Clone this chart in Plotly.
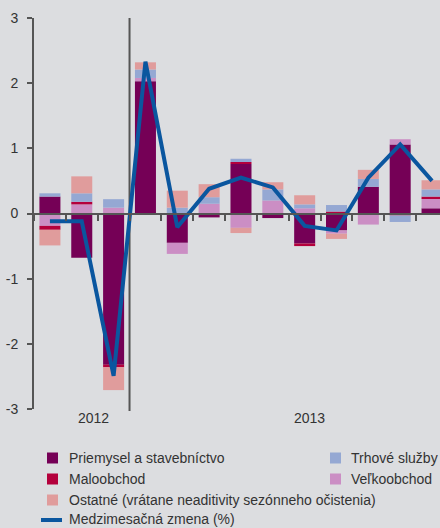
import plotly.graph_objects as go

categories = ["10/2012", "11/2012", "12/2012", "1/2013", "2/2013", "3/2013", "4/2013",
              "5/2013", "6/2013", "7/2013", "8/2013", "9/2013", "10/2013"]
priemysel = [0.26, -0.68, -2.32, 2.03, -0.45, -0.06, 0.76, -0.07, -0.46, -0.26, 0.41, 1.06, 0.08]
velkoobchod = [-0.19, 0.14, 0.09, 0.05, -0.17, 0.15, -0.22, 0.20, 0.08, -0.05, -0.17, 0.08, 0.15]
maloobchod = [-0.06, 0.04, -0.04, 0.0, 0.0, 0.0, 0.03, 0.0, -0.04, 0.03, 0.0, -0.03, 0.03]
trhove = [0.05, 0.13, 0.13, 0.13, 0.09, 0.10, 0.05, 0.17, 0.06, 0.10, 0.12, -0.10, 0.11]
ostatne = [-0.24, 0.26, -0.35, 0.11, 0.26, 0.20, -0.08, 0.11, 0.14, -0.08, 0.14, 0.0, 0.14]
zmena = [-0.12, -0.12, -2.49, 2.33, -0.21, 0.38, 0.55, 0.40, -0.19, -0.26, 0.55, 1.06, 0.50]
year_labels = ["2012", "2013"]
y_ticks = [3, 2, 1, 0, -1, -2, -3]

C_PRI = "#750056"
C_MAL = "#b4003c"
C_OST = "#e09c9c"
C_TRH = "#95a8d3"
C_VEL = "#cb8ec4"
C_LINE = "#0a569f"
BG = "#dcdde0"
AX = "#555555"
TXT = "#333333"
FONT = "Liberation Sans"

W, H = 440, 528
L, R, T, B = 34, 0, 18, 119
PW, PH = W - L - R, H - T - B


def xp(px):
    return (px - L) / PW


def yp(py):
    return (H - B - py) / PH


fig = go.Figure()
series = [("Priemysel a stavebníctvo", priemysel, C_PRI),
          ("Veľkoobchod", velkoobchod, C_VEL),
          ("Maloobchod", maloobchod, C_MAL),
          ("Trhové služby", trhove, C_TRH),
          ("Ostatné (vrátane neaditivity sezónneho očistenia)", ostatne, C_OST)]
for name, vals, col in series:
    fig.add_trace(go.Bar(x=categories, y=vals, name=name, marker_color=col,
                         marker_line_width=0, showlegend=False))
fig.add_trace(go.Scatter(x=categories, y=zmena, mode="lines", name="Medzimesačná zmena (%)",
                         line=dict(color=C_LINE, width=4), showlegend=False))

shapes = []
# separator between years
shapes.append(dict(type="line", xref="x", yref="paper", x0=2.5, x1=2.5, y0=-0.005, y1=1.0,
                   line=dict(color=AX, width=2), layer="below"))

annotations = []
annotations.append(dict(text=year_labels[0], xref="paper", yref="paper", x=xp(93), y=yp(418),
                        showarrow=False, font=dict(size=14, color=TXT, family=FONT),
                        xanchor="center", yanchor="middle"))
annotations.append(dict(text=year_labels[1], xref="paper", yref="paper", x=xp(309), y=yp(418),
                        showarrow=False, font=dict(size=14, color=TXT, family=FONT),
                        xanchor="center", yanchor="middle"))

legend_items = [
    ("Priemysel a stavebníctvo", C_PRI, 47, 67, 458),
    ("Trhové služby", C_TRH, 330, 349, 458),
    ("Maloobchod", C_MAL, 47, 67, 479),
    ("Veľkoobchod", C_VEL, 330, 349, 479),
    ("Ostatné (vrátane neaditivity sezónneho očistenia)", C_OST, 47, 67, 500),
]
for text, col, sx, tx, cy in legend_items:
    shapes.append(dict(type="rect", xref="paper", yref="paper",
                       x0=xp(sx), x1=xp(sx + 11), y0=yp(cy - 5.5), y1=yp(cy + 5.5),
                       fillcolor=col, line=dict(width=0)))
    annotations.append(dict(text=text, xref="paper", yref="paper", x=xp(tx), y=yp(cy),
                            showarrow=False, font=dict(size=14, color=TXT, family=FONT),
                            xanchor="left", yanchor="middle"))
shapes.append(dict(type="line", xref="paper", yref="paper", x0=xp(41), x1=xp(62),
                   y0=yp(520), y1=yp(520), line=dict(color=C_LINE, width=4)))
annotations.append(dict(text="Medzimesačná zmena (%)", xref="paper", yref="paper", x=xp(67), y=yp(519),
                        showarrow=False, font=dict(size=14, color=TXT, family=FONT),
                        xanchor="left", yanchor="middle"))

fig.update_layout(
    width=W, height=H,
    margin=dict(l=L, r=R, t=T, b=B, pad=0),
    barmode="relative", bargap=0.34,
    paper_bgcolor=BG, plot_bgcolor=BG,
    showlegend=False,
    shapes=shapes, annotations=annotations,
    font=dict(family=FONT, color=TXT, size=14),
    xaxis=dict(type="category", range=[-0.5, 12.25], anchor="free", position=0.5,
               showline=True, linecolor=AX, linewidth=2, showgrid=False, zeroline=False,
               tickmode="array", tickvals=[i - 0.5 for i in range(13)],
               ticktext=["" for _ in range(13)], ticks="outside", ticklen=6, tickwidth=1.5,
               tickcolor=AX, showticklabels=False, fixedrange=True),
    yaxis=dict(range=[-3, 3], showline=True, linecolor=AX, linewidth=2, showgrid=False,
               zeroline=False, tickmode="array", tickvals=y_ticks,
               ticktext=[str(v) for v in y_ticks], ticks="outside", ticklen=5, tickwidth=1.5,
               tickcolor=AX, tickfont=dict(size=14, color=TXT, family=FONT), ticklabelstandoff=6),
)

fig.write_html("out.html", config={"displayModeBar": False},
               post_script="document.body.style.margin='0';document.body.style.overflow='hidden';")
